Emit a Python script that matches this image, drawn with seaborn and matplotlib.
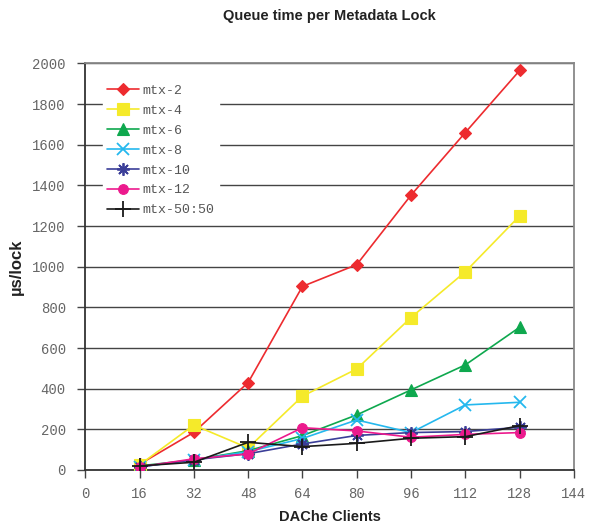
import matplotlib
matplotlib.use("Agg")
import matplotlib.pyplot as plt
import seaborn as sns
import pandas as pd

clients = [16, 32, 48, 64, 80, 96, 112, 128]

mtx_2 = [28, 185, 430, 903, 1010, 1352, 1660, 1965]
mtx_4 = [25, 221, 108, 363, 497, 750, 975, 1250]
mtx_6 = [20, 50, 95, 169, 271, 394, 517, 702]
mtx_8 = [15, 50, 90, 155, 246, 184, 320, 333]
mtx_10 = [15, 50, 80, 128, 170, 184, 189, 210]
mtx_12 = [15, 55, 79, 208, 192, 161, 175, 184]
mtx_50_50 = [20, 38, 136, 115, 131, 156, 164, 218]

series_names = ["mtx-2", "mtx-4", "mtx-6", "mtx-8", "mtx-10", "mtx-12", "mtx-50:50"]
series_values = [mtx_2, mtx_4, mtx_6, mtx_8, mtx_10, mtx_12, mtx_50_50]

x_ticks = [0, 16, 32, 48, 64, 80, 96, 112, 128, 144]
y_ticks = [0, 200, 400, 600, 800, 1000, 1200, 1400, 1600, 1800, 2000]

colors = ["#ED2B2F", "#F5EA2A", "#0EA84E", "#25B8EE", "#3B3E98", "#EC1A8D", "#1A1A1A"]
markers = ["D", "s", "^", "x", (8, 2, 0), "o", "+"]
msizes = [6, 9, 8, 9, 9, 7, 11]

rows = []
for name, vals in zip(series_names, series_values):
    for c, v in zip(clients, vals):
        rows.append({"clients": c, "us_per_lock": v, "series": name})
df = pd.DataFrame(rows)

sns.set_theme(style="white")
plt.rcParams["font.family"] = ["Liberation Sans", "DejaVu Sans"]

fig = plt.figure(figsize=(5.96, 5.26), dpi=100)
ax = fig.add_axes([0.143, 0.1065, 0.820, 0.773])

for name, col, mk, ms in zip(series_names, colors, markers, msizes):
    sub = df[df["series"] == name]
    sns.lineplot(data=sub, x="clients", y="us_per_lock", ax=ax, color=col,
                 marker=mk, markersize=ms, markeredgecolor=col,
                 markeredgewidth=1.3 if mk in ("x", "+", (8, 2, 0)) else 0.8,
                 linewidth=1.2, label=name, zorder=3)

ax.set_xlim(0, 144)
ax.set_ylim(0, 2000)
ax.set_xticks(x_ticks)
ax.set_yticks(y_ticks)
ax.set_xticklabels([str(t) for t in x_ticks], family="Liberation Mono",
                   fontsize=10, color="#666666")
ax.set_yticklabels([str(t) for t in y_ticks], family="Liberation Mono",
                   fontsize=10, color="#666666")

ax.yaxis.grid(True, color="#444444", linewidth=1.0)
ax.xaxis.grid(False)
ax.set_axisbelow(True)

ax.tick_params(axis="both", which="major", direction="out", length=6, width=1.0,
               color="#444444", left=True, bottom=True, pad=8)
ax.tick_params(axis="x", pad=6)
for side in ("left", "bottom"):
    ax.spines[side].set_color("#333333")
    ax.spines[side].set_linewidth(1.3)
for side in ("top", "right"):
    ax.spines[side].set_color("#888888")
    ax.spines[side].set_linewidth(1.3)

ax.set_xlabel("DAChe Clients", fontsize=10.5, fontweight="bold", color="#222222", labelpad=7)
ax.set_ylabel("µs/lock", fontsize=12, fontweight="bold", color="#222222", labelpad=6)
ax.set_title("Queue time per Metadata Lock", fontsize=10.5, fontweight="bold",
             color="#222222", pad=31)

leg = ax.legend(loc="upper left", bbox_to_anchor=(0.022, 0.975), frameon=True,
                prop={"family": "Liberation Mono", "size": 9.5},
                handlelength=2.4, handletextpad=0.25, labelspacing=0.58,
                borderpad=0.35, fancybox=False)
leg.get_frame().set_facecolor("white")
leg.get_frame().set_edgecolor("white")
leg.get_frame().set_alpha(1.0)
for t in leg.get_texts():
    t.set_color("#555555")

fig.savefig("out.png", dpi=100, facecolor="white")
